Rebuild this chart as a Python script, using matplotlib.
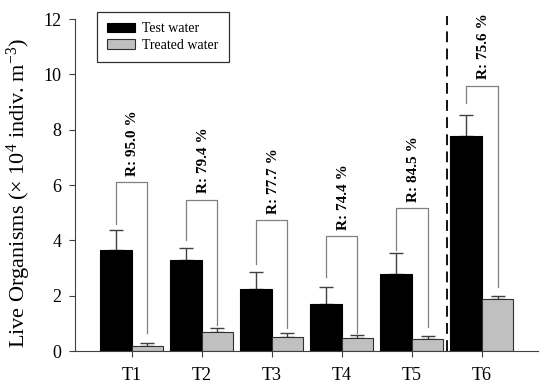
import matplotlib
matplotlib.use("Agg")
import matplotlib.pyplot as plt
import numpy as np

categories = ["T1", "T2", "T3", "T4", "T5", "T6"]
test_water = [3.67, 3.31, 2.25, 1.72, 2.79, 7.77]
test_err = [0.72, 0.40, 0.62, 0.60, 0.76, 0.78]
treated_water = [0.18, 0.70, 0.52, 0.46, 0.43, 1.90]
treated_err = [0.12, 0.15, 0.15, 0.12, 0.10, 0.09]
removal = ["R: 95.0 %", "R: 79.4 %", "R: 77.7 %", "R: 74.4 %", "R: 84.5 %", "R: 75.6 %"]
bracket_top = [6.11, 5.48, 4.75, 4.15, 5.17, 9.60]
bracket_left_bottom = [4.61, 4.03, 3.14, 2.68, 3.65, 8.96]
bracket_right_bottom = [0.64, 0.94, 0.82, 0.64, 0.88, 2.32]

plt.rcParams['font.family'] = ['Liberation Serif', 'DejaVu Serif']
plt.rcParams['mathtext.fontset'] = 'custom'
plt.rcParams['mathtext.rm'] = 'Liberation Serif'
plt.rcParams['mathtext.it'] = 'Liberation Serif:italic'

fig = plt.figure(figsize=(5.5, 3.91), dpi=100)
ax = fig.add_axes([0.136, 0.102, 0.842, 0.849])

x = np.arange(len(categories))
w = 0.45
ax.bar(x - w/2, test_water, w, color='black', edgecolor='black', linewidth=0.8,
       label='Test water', zorder=2)
ax.bar(x + w/2, treated_water, w, color='#c0c0c0', edgecolor='#303030', linewidth=0.8,
       label='Treated water', zorder=2)
ax.errorbar(x - w/2, test_water, yerr=[np.zeros(len(x)), test_err], fmt='none',
            ecolor='#404040', elinewidth=1.0, capsize=5, capthick=1.0, zorder=1)
ax.errorbar(x + w/2, treated_water, yerr=[np.zeros(len(x)), treated_err], fmt='none',
            ecolor='#404040', elinewidth=1.0, capsize=5, capthick=1.0, zorder=1)

for i in range(len(categories)):
    xl = x[i] - w/2
    xr = x[i] + w/2
    ax.plot([xl, xl, xr, xr],
            [bracket_left_bottom[i], bracket_top[i], bracket_top[i], bracket_right_bottom[i]],
            color='#808080', linewidth=0.9, zorder=3)
    ax.text(x[i] + 0.02, bracket_top[i] + 0.22, removal[i], rotation=90,
            ha='center', va='bottom', fontsize=11, fontweight='bold')

ax.plot([4.5, 4.5], [0, 12.13], color='black', linestyle=(0, (6, 3.5)),
        linewidth=1.3, clip_on=False, zorder=4)

ax.set_xlim(-0.81, 5.8)
ax.set_ylim(0, 12)
ax.set_yticks([0, 2, 4, 6, 8, 10, 12])
ax.set_xticks(x)
ax.set_xticklabels(categories)
ax.tick_params(axis='both', labelsize=13, direction='out', length=4.5, width=0.8,
               color='#404040')
ax.tick_params(axis='x', pad=7)
ax.tick_params(axis='y', pad=5)
for s in ['top', 'right']:
    ax.spines[s].set_visible(False)
for s in ['left', 'bottom']:
    ax.spines[s].set_color('#404040')
    ax.spines[s].set_linewidth(0.8)

ax.set_ylabel(r'Live Organisms ($\times$ 10$^{4}$ indiv. m$^{-3}$)', fontsize=16)
ax.yaxis.set_label_coords(-0.09, 0.476)

leg = ax.legend(loc='upper left', bbox_to_anchor=(97/550, 1 - 12/391),
                bbox_transform=fig.transFigure, borderaxespad=0, fontsize=10,
                frameon=True, fancybox=False, edgecolor='#303030', framealpha=1,
                handlelength=2.0, handleheight=0.65, handletextpad=0.5,
                borderpad=0.75, labelspacing=0.25)
leg.get_frame().set_linewidth(0.9)

fig.savefig('out.png', dpi=100)
